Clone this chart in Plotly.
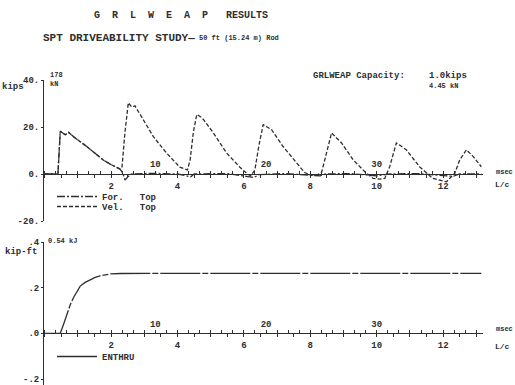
import plotly.graph_objects as go

# ---------------- data (time in L/c) ----------------
vel_t = [0, 0.40, 0.47, 0.62, 0.72, 0.90, 1.27, 1.76, 2.00, 2.27, 2.33, 2.42, 2.52, 2.62, 2.72,
         2.97, 3.27, 3.67, 4.07, 4.30, 4.38, 4.48, 4.58, 4.68, 4.78, 5.08, 5.48, 5.88, 6.08,
         6.20, 6.33, 6.45, 6.58, 6.70, 6.83, 7.18, 7.58, 7.83, 8.00, 8.20, 8.34, 8.50, 8.64,
         8.94, 9.29, 9.64, 9.89, 10.10, 10.24, 10.39, 10.50, 10.59, 10.70, 10.89, 11.29, 11.69,
         12.10, 12.35, 12.50, 12.70, 12.90, 13.15]
vel_v = [0, 0, 18.2, 16.7, 17.7, 15.5, 11.7, 6.0, 4.0, 2.1, 3.0, 18.0, 30.3, 28.5, 29.0,
         23.2, 16.0, 8.9, 2.9, 1.7, 6.0, 18.0, 25.3, 24.5, 23.2, 17.5, 8.9, 2.9, 0.3,
         -0.8, 1.7, 12.0, 21.0, 20.0, 18.9, 11.7, 4.6, 0.6, -0.5, -0.5, 0.7, 10.0, 17.5,
         13.2, 6.0, 1.0, -1.9, -2.2, -1.9, 3.1, 9.0, 13.2, 12.2, 10.3, 3.1, -1.9,
         -3.3, 0.3, 6.0, 10.3, 7.5, 3.1]

for_t = [0, 0.40, 0.47, 0.62, 0.72, 0.90, 1.27, 1.76, 2.00, 2.27, 2.35, 2.42, 2.52, 2.62,
         3.20, 4.00, 4.40, 4.50, 5.50, 6.30, 6.45, 7.20, 8.30, 8.45, 9.20, 10.00, 10.40,
         11.20, 12.30, 12.50, 13.15]
for_v = [0, 0, 18.2, 16.7, 17.7, 15.5, 11.7, 6.0, 4.0, 2.1, 0.5, -2.6, -1.0, 0.0,
         0.3, 0.0, -1.2, 0.0, 0.2, -1.5, -0.3, 0.2, -0.8, 0.0, 0.2, -0.8, 0.0,
         0.2, -1.0, 0.0, 0.0]

en_t = [0, 0.47, 0.57, 0.67, 0.77, 0.87, 0.97, 1.07, 1.22, 1.37, 1.52, 1.67, 1.82, 1.97,
        2.30, 3.00, 5.00, 8.00, 13.15]
en_v = [0, 0, 0.040, 0.087, 0.125, 0.157, 0.185, 0.207, 0.223, 0.235, 0.245, 0.252, 0.257,
        0.260, 0.262, 0.263, 0.263, 0.263, 0.263]

lc_labels = [2, 4, 6, 8, 10, 12]
ms_labels = [10, 20, 30]
ms_per_lc = 3.0
xr = [-0.05, 13.2]

top_yvals = [-20, 0, 20, 40]
top_ytext = ["-20.", "0.", "20.", "40."]
bot_yvals = [-0.2, 0.0, 0.2, 0.4]
bot_ytext = ["-.2", ".0", ".2", ".4"]

# ---------------- layout geometry ----------------
W, H = 515, 385
L, R, T, B = 43, 32, 80, 0
PW, PH = W - L - R, H - T - B
BOT = H - B
top_dom = [(BOT - 221) / PH, 1.0]
bot_dom = [0.0, (BOT - 242) / PH]
top_range = [-20, 40]
bot_range = [0.4 - 0.6 * (BOT - 242) / 137, 0.4]
top_zero = top_dom[0] + (top_dom[1] - top_dom[0]) * (0 - top_range[0]) / (top_range[1] - top_range[0])
bot_zero = bot_dom[0] + (bot_dom[1] - bot_dom[0]) * (0 - bot_range[0]) / (bot_range[1] - bot_range[0])

INK = "#2e2e2e"
FONT = "Liberation Mono"

def px(x):
    return (x - L) / PW

def py(y):
    return (BOT - y) / PH

fig = go.Figure()
fig.add_trace(go.Scatter(x=for_t, y=for_v, mode="lines", name="For.\u00a0\u00a0\u00a0Top",
                         line=dict(color=INK, width=1.3, dash="8px,2px,2px,2px"),
                         xaxis="x", yaxis="y", legend="legend"))
fig.add_trace(go.Scatter(x=vel_t, y=vel_v, mode="lines", name="Vel.\u00a0\u00a0\u00a0Top",
                         line=dict(color=INK, width=1.3, dash="4px,2px"),
                         xaxis="x", yaxis="y", legend="legend2"))
fig.add_trace(go.Scatter(x=en_t, y=en_v, mode="lines", name="ENTHRU",
                         line=dict(color=INK, width=1.3, dash="40px,2px,6px,2px"),
                         xaxis="x3", yaxis="y2", legend="legend3"))
# empty traces so the msec axes get a subplot to draw on
fig.add_trace(go.Scatter(x=[], y=[], xaxis="x2", yaxis="y", showlegend=False, hoverinfo="skip"))
fig.add_trace(go.Scatter(x=[], y=[], xaxis="x4", yaxis="y2", showlegend=False, hoverinfo="skip"))

lc_ticks = [i * 0.5 for i in range(0, 27)]
lc_text = [str(int(v)) if (v in lc_labels) else "" for v in lc_ticks]
ms_ticks = list(range(0, 40))
ms_text = [str(v) if v in ms_labels else "" for v in ms_ticks]

tickfont = dict(family=FONT, size=9, color=INK, weight="bold")
xcommon = dict(showline=True, linecolor=INK, linewidth=1, showgrid=False, zeroline=False,
               ticks="outside", ticklen=3, tickcolor=INK, tickfont=tickfont, anchor="free",
               automargin=False)
ycommon = dict(anchor="free", position=0, showline=True, linecolor=INK, linewidth=1,
               showgrid=False, zeroline=False, ticks="outside", ticklen=2, tickcolor=INK,
               tickfont=tickfont, automargin=False, ticklabeloverflow="allow")
legfont = dict(family=FONT, size=9, color=INK, weight="bold")

fig.update_layout(
    width=W, height=H, margin=dict(l=L, r=R, t=T, b=B, autoexpand=False),
    paper_bgcolor="white", plot_bgcolor="white", showlegend=True,
    font=dict(family=FONT, size=8, color=INK),
    xaxis=dict(domain=[0, 1], range=xr, position=top_zero, tickvals=lc_ticks, ticktext=lc_text,
               side="bottom", **xcommon),
    xaxis2=dict(domain=[0, 1], range=[v * ms_per_lc for v in xr], position=top_zero,
                overlaying="x", side="top", tickvals=ms_ticks, ticktext=ms_text, **xcommon),
    xaxis3=dict(domain=[0, 1], range=xr, position=bot_zero, tickvals=lc_ticks, ticktext=lc_text,
                side="bottom", **xcommon),
    xaxis4=dict(domain=[0, 1], range=[v * ms_per_lc for v in xr], position=bot_zero,
                overlaying="x3", side="top", tickvals=ms_ticks, ticktext=ms_text, **xcommon),
    yaxis=dict(domain=top_dom, range=top_range, tickvals=top_yvals, ticktext=top_ytext, **ycommon),
    yaxis2=dict(domain=bot_dom, range=bot_range, tickvals=bot_yvals, ticktext=bot_ytext, **ycommon),
    legend=dict(x=px(52), y=py(182), xanchor="left", yanchor="top", bgcolor="rgba(0,0,0,0)",
                font=legfont, itemwidth=40),
    legend2=dict(x=px(52), y=py(192), xanchor="left", yanchor="top", bgcolor="rgba(0,0,0,0)",
                 font=legfont, itemwidth=40),
    legend3=dict(x=px(52), y=py(342), xanchor="left", yanchor="top", bgcolor="rgba(0,0,0,0)",
                 font=legfont, itemwidth=40),
)

def note(x, y, text, size=8, xanchor="left"):
    fig.add_annotation(x=px(x), y=py(y), xref="paper", yref="paper", text=text, showarrow=False,
                       xanchor=xanchor, yanchor="middle", borderpad=0,
                       font=dict(family=FONT, size=size, color=INK, weight="bold"))

sp = "\u00a0\u00a0"
note(181, 15, sp.join("GRLWEAP") + "\u00a0\u00a0\u00a0RESULTS", size=10, xanchor="center")
note(42, 38, "SPT DRIVEABILITY STUDY\u2014", size=11)
note(198, 38, "50 ft (15.24 m) Rod", size=7)
note(1, 87, "kips", size=9)
note(49, 75, "178", size=7)
note(49, 84, "kN", size=7)
note(312, 76, "GRLWEAP Capacity:", size=9)
note(428, 76, "1.0kips", size=9)
note(428, 86, "4.45 kN", size=7)
note(495, 172, "msec", size=7)
note(494, 184, "L/c", size=8)
note(47, 241, "0.54 kJ", size=7)
note(4, 252, "kip-ft", size=9)
note(495, 329, "msec", size=7)
note(494, 346, "L/c", size=8)

fig.write_html("out.html", config={"displayModeBar": False},
               post_script="document.body.style.margin='0px';")
